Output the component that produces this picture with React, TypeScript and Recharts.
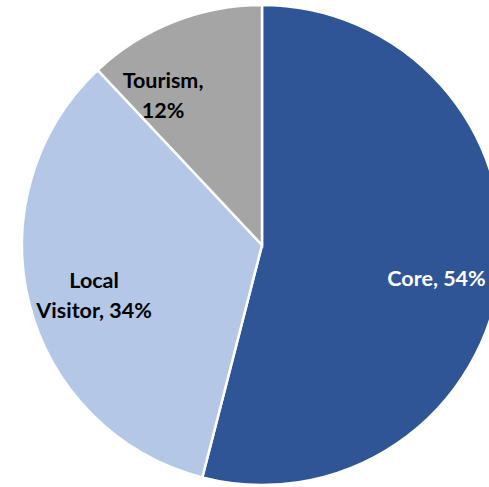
import { PieChart, Pie, Cell } from 'recharts';

const categories = ['Core', 'Local Visitor', 'Tourism'];
const shares = [54, 34, 12];
const labelLines = [['Core, 54%'], ['Local', 'Visitor, 34%'], ['Tourism,', '12%']];

const COLORS = ['#2F5597', '#B4C7E7', '#A5A5A5'];
const TEXT_COLORS = ['#FFFFFF', '#000000', '#000000'];
// Excel "best fit" nudges, radius fraction and angle shift in degrees
const LABEL_ADJUST = [
  { r: 0.74, da: -3.45 },
  { r: 0.73, da: 2.2 },
  { r: 0.749, da: 11.8 },
];

const RADIAN = Math.PI / 180;
const FONT = 'Lato, "Open Sans", sans-serif';

const data = categories.map((name, i) => ({ name, value: shares[i] }));

function renderLabel(props: any) {
  const { cx, cy, midAngle, outerRadius, index } = props;
  const adj = LABEL_ADJUST[index];
  const r = outerRadius * adj.r;
  const a = (midAngle + adj.da) * RADIAN;
  const x = cx + r * Math.cos(-a);
  const y = cy + r * Math.sin(-a);
  const lines = labelLines[index];
  const lh = 29.5;
  const y0 = y - ((lines.length - 1) * lh) / 2;
  return (
    <text
      x={x}
      y={y0}
      textAnchor="middle"
      dominantBaseline="central"
      fill={TEXT_COLORS[index]}
      fontFamily={FONT}
      fontWeight={700}
      fontSize={21.5}
    >
      {lines.map((t, i) => (
        <tspan key={i} x={x} y={y0 + i * lh}>
          {t}
        </tspan>
      ))}
    </text>
  );
}

export default function App() {
  return (
    <div style={{ position: 'absolute', left: 0, top: 0, width: 489, height: 487, overflow: 'hidden', background: '#fff' }}>
      <PieChart width={489} height={487} margin={{ top: 0, right: 0, bottom: 0, left: 0 }}>
        <Pie
          data={data}
          dataKey="value"
          nameKey="name"
          cx={262}
          cy={245}
          outerRadius={240}
          startAngle={90}
          endAngle={-270}
          stroke="#FFFFFF"
          strokeWidth={2.5}
          label={renderLabel}
          labelLine={false}
          isAnimationActive={false}
        >
          {data.map((_, i) => (
            <Cell key={i} fill={COLORS[i]} />
          ))}
        </Pie>
      </PieChart>
    </div>
  );
}
